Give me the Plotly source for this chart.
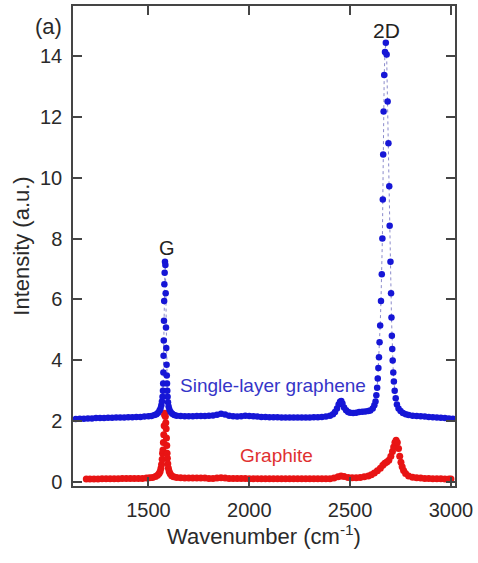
import plotly.graph_objects as go

# ---- data ----
blue_x = [1140, 1160, 1180, 1200, 1220, 1240, 1260, 1280, 1300, 1320, 1340, 1360, 1380, 1400,
          1420, 1440, 1460, 1480, 1500, 1515, 1530, 1540, 1548, 1555, 1560, 1564, 1567,
          1570, 1572, 1573, 1574, 1575, 1576, 1577, 1578, 1579, 1580.5, 1582,
          1584, 1585.5, 1587, 1588.5, 1590, 1591, 1592, 1593.5, 1595, 1597, 1600, 1604,
          1610, 1618, 1628, 1640, 1660, 1680, 1700, 1720, 1740, 1760, 1780, 1800, 1820,
          1840, 1860, 1880, 1900, 1920, 1940, 1960, 1980, 2000, 2020, 2040, 2060, 2080,
          2100, 2120, 2140, 2160, 2180, 2200, 2220, 2240, 2260, 2280, 2300, 2320, 2340,
          2360, 2380, 2400, 2415, 2425, 2435, 2443, 2450, 2456, 2462, 2470, 2480, 2490,
          2500, 2515, 2530, 2545, 2560, 2575, 2590, 2600, 2612, 2620, 2626, 2630, 2634,
          2637, 2640, 2643, 2646, 2649, 2653, 2657, 2660, 2662, 2664, 2666, 2669, 2673,
          2677, 2681, 2686, 2690, 2694, 2696, 2700, 2703, 2705, 2707, 2709, 2711, 2714,
          2717, 2721, 2726, 2732, 2740, 2750, 2762, 2776, 2790, 2810, 2830, 2850, 2870,
          2890, 2910, 2930, 2950, 2970, 2990, 3010]
blue_y = [2.07, 2.08, 2.08, 2.09, 2.09, 2.10, 2.10, 2.10, 2.11, 2.11, 2.12, 2.12, 2.12, 2.13,
          2.13, 2.14, 2.14, 2.15, 2.16, 2.17, 2.20, 2.23, 2.28, 2.35, 2.42, 2.52, 2.65,
          2.80, 3.00, 3.24, 3.60, 4.15, 4.65, 5.30, 5.95, 6.50, 6.88, 7.24,
          7.13, 6.20, 5.08, 4.40, 3.85, 3.50, 3.24, 3.00, 2.80, 2.62, 2.48, 2.38,
          2.30, 2.24, 2.20, 2.18, 2.17, 2.16, 2.16, 2.16, 2.17, 2.17, 2.17, 2.18, 2.19,
          2.21, 2.24, 2.22, 2.18, 2.16, 2.15, 2.16, 2.18, 2.17, 2.16, 2.15, 2.14, 2.14,
          2.13, 2.13, 2.13, 2.12, 2.12, 2.12, 2.12, 2.12, 2.12, 2.12, 2.12, 2.13, 2.13,
          2.14, 2.15, 2.18, 2.23, 2.30, 2.42, 2.55, 2.64, 2.66, 2.58, 2.45, 2.36, 2.30,
          2.28, 2.27, 2.28, 2.30, 2.31, 2.32, 2.33, 2.35, 2.42, 2.52, 2.65, 2.85, 3.10,
          3.40, 3.75, 4.10, 4.59, 5.14, 5.95, 6.83, 8.00, 9.28, 10.76, 12.17, 13.37, 14.13,
          14.43, 14.05, 12.50, 11.13, 9.72, 8.42, 7.24, 6.20, 5.41, 4.81, 4.37, 3.99, 3.60,
          3.30, 3.00, 2.75, 2.55, 2.42, 2.33, 2.27, 2.23, 2.20, 2.18, 2.17, 2.16, 2.15,
          2.14, 2.13, 2.12, 2.11, 2.10, 2.09, 2.08]

red_x = [1192, 1210, 1230, 1250, 1270, 1290, 1310, 1330, 1350, 1370, 1390, 1410, 1430, 1450,
         1470, 1490, 1505, 1520, 1535, 1545, 1553, 1558, 1562, 1565, 1568, 1570, 1572,
         1574, 1576, 1578, 1580, 1582, 1584, 1586, 1588, 1589.5, 1591, 1592.5, 1594, 1596,
         1599, 1603, 1608, 1615, 1625, 1640, 1660, 1680, 1700, 1720, 1740, 1760, 1780,
         1800, 1820, 1840, 1860, 1880, 1900, 1920, 1940, 1960, 1980, 2000, 2020, 2040,
         2060, 2080, 2100, 2120, 2140, 2160, 2180, 2200, 2220, 2240, 2260, 2280, 2300,
         2320, 2340, 2360, 2380, 2400, 2420, 2440, 2455, 2470, 2490, 2510, 2530, 2550,
         2570, 2590, 2605, 2620, 2635, 2650, 2662, 2672, 2682, 2692, 2702, 2710, 2716,
         2722, 2728, 2734, 2740, 2746, 2752, 2758, 2765, 2775, 2790, 2810, 2830, 2850,
         2870, 2890, 2910, 2930, 2950, 2970, 2990, 3000]
red_y = [0.10, 0.10, 0.10, 0.10, 0.11, 0.11, 0.11, 0.11, 0.11, 0.12, 0.12, 0.12, 0.12, 0.12,
         0.12, 0.13, 0.14, 0.15, 0.18, 0.22, 0.28, 0.35, 0.45, 0.58, 0.75, 0.95, 1.05,
         1.30, 1.55, 1.85, 2.20, 2.26, 2.15, 1.95, 1.75, 1.45, 1.20, 0.95, 0.78, 0.60,
         0.45, 0.35, 0.27, 0.21, 0.17, 0.15, 0.14, 0.13, 0.13, 0.13, 0.13, 0.13, 0.13,
         0.12, 0.12, 0.13, 0.14, 0.13, 0.12, 0.12, 0.12, 0.12, 0.12, 0.11, 0.11, 0.11,
         0.11, 0.11, 0.11, 0.11, 0.11, 0.11, 0.11, 0.11, 0.11, 0.11, 0.11, 0.11, 0.11,
         0.11, 0.11, 0.11, 0.11, 0.11, 0.13, 0.17, 0.20, 0.18, 0.15, 0.14, 0.14, 0.15,
         0.17, 0.20, 0.24, 0.30, 0.37, 0.45, 0.55, 0.62, 0.66, 0.72, 0.85, 1.00, 1.15,
         1.30, 1.37, 1.30, 1.10, 0.85, 0.65, 0.50, 0.38, 0.28, 0.20, 0.16, 0.14, 0.13,
         0.12, 0.12, 0.11, 0.11, 0.11, 0.10, 0.10, 0.10]

x_ticks = [1500, 2000, 2500, 3000]
y_ticks = [0, 2, 4, 6, 8, 10, 12, 14]

FONT = "Liberation Sans, Arial, sans-serif"
BLUE = "#1616d6"
RED = "#e81414"

fig = go.Figure()
fig.add_trace(go.Scatter(
    x=red_x, y=red_y, mode="lines+markers", name="Graphite",
    line=dict(color="rgba(220,90,90,0.7)", width=1, dash="dot"),
    marker=dict(color=RED, size=7, line=dict(width=0)),
))
fig.add_trace(go.Scatter(
    x=blue_x, y=blue_y, mode="lines+markers", name="Single-layer graphene",
    line=dict(color="rgba(110,110,190,0.8)", width=1, dash="dot"),
    marker=dict(color=BLUE, size=6.5, line=dict(width=0)),
))

axis_common = dict(
    showline=True, linecolor="#454545", linewidth=1.5, mirror="ticks",
    ticks="inside", ticklen=9, tickwidth=1.5, tickcolor="#454545",
    showgrid=False, zeroline=False,
    tickfont=dict(family=FONT, size=20, color="#2a2a2a"),
)

fig.update_layout(
    width=478, height=563,
    margin=dict(l=73, r=23, t=4, b=77),
    plot_bgcolor="white", paper_bgcolor="white",
    showlegend=False,
    xaxis=dict(range=[1126, 3020], tickvals=x_ticks, ticklabelstandoff=5,
               title=dict(text="Wavenumber (cm<sup>-1</sup>)",
                          font=dict(family=FONT, size=22, color="#2a2a2a"), standoff=8),
               **axis_common),
    yaxis=dict(range=[-0.13, 15.64], tickvals=y_ticks, ticklabelstandoff=5,
               title=dict(text="Intensity (a.u.)",
                          font=dict(family=FONT, size=22, color="#2a2a2a"), standoff=4),
               **axis_common),
)

fig.add_annotation(x=1590, y=7.69, text="G", showarrow=False,
                   font=dict(family=FONT, size=20, color="#222"))
fig.add_annotation(x=2681, y=14.82, text="2D", showarrow=False,
                   font=dict(family=FONT, size=21, color="#222"))
fig.add_annotation(x=2118, y=3.17, text="Single-layer graphene", showarrow=False,
                   font=dict(family=FONT, size=19, color="#3535c8"))
fig.add_annotation(x=2133, y=0.88, text="Graphite", showarrow=False,
                   font=dict(family=FONT, size=19, color="#e03030"))
fig.add_annotation(xref="paper", yref="paper", x=-0.065, y=0.958, text="(a)",
                   xanchor="center", yanchor="middle",
                   showarrow=False, font=dict(family=FONT, size=22, color="#2a2a2a"))

fig.write_html("out.html")
